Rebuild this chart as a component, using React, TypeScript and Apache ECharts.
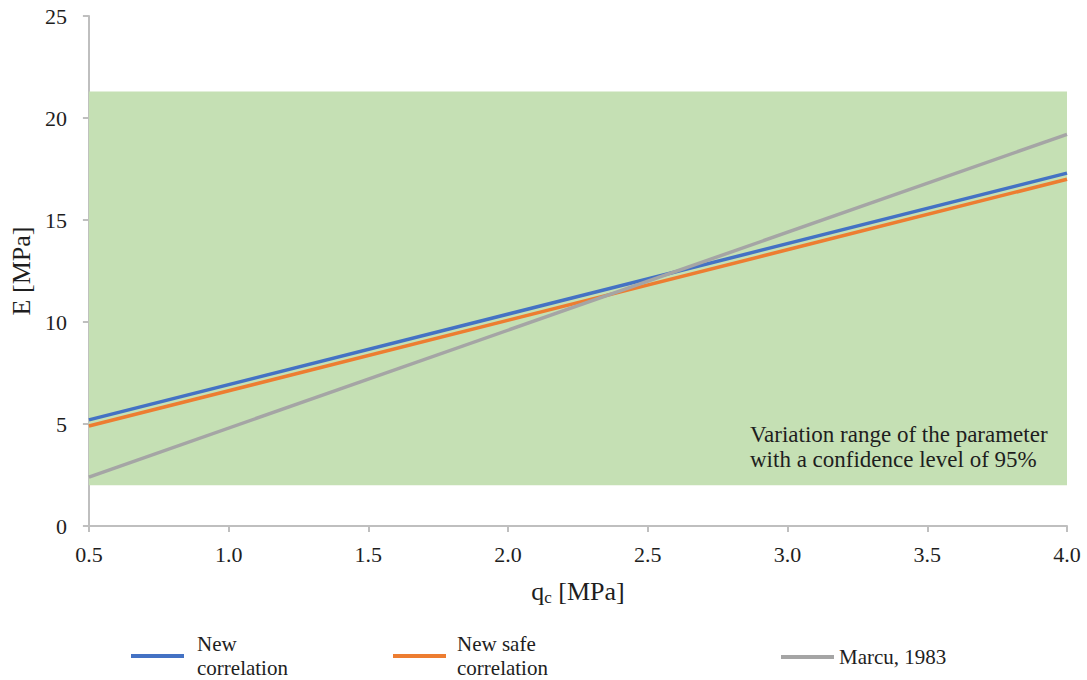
import React, { useEffect, useRef } from "react";
import * as echarts from "echarts";

const qc = [0.5, 4.0];
const newCorrelation = [5.2, 17.3];
const newSafeCorrelation = [4.9, 17.0];
const marcu1983 = [2.4, 19.2];
const bandRange = [2.0, 21.3];
const xTicks = [0.5, 1.0, 1.5, 2.0, 2.5, 3.0, 3.5, 4.0];
const seriesNames = ["New\ncorrelation", "New safe\ncorrelation", "Marcu, 1983"];
const colors = ["#4472c4", "#ed7d31", "#a5a5a5"];

const FONT = "Times New Roman";
const TXT = "#1e1e1e";

export default function App() {
  const ref = useRef<HTMLDivElement>(null);
  useEffect(() => {
    if (!ref.current) return;
    const chart = echarts.init(ref.current, undefined, { renderer: "svg" });
    const values = [newCorrelation, newSafeCorrelation, marcu1983];
    const series: any[] = values.map((v, i) => ({
      type: "line",
      name: seriesNames[i],
      data: qc.map((x, j) => [x, v[j]]),
      showSymbol: false,
      symbol: "none",
      lineStyle: { color: colors[i], width: 3.5 },
      itemStyle: { color: colors[i] },
      z: 3 + i,
    }));
    series[0].markArea = {
      silent: true,
      itemStyle: { color: "#c5e0b4" },
      data: [[{ xAxis: qc[0], yAxis: bandRange[0] }, { xAxis: qc[1], yAxis: bandRange[1] }]],
    };
    const legendLefts = [131, 393, 781];
    const legendTops = [632, 632, 645];
    const legendPads = [
      [0, 0, 0, 8],
      [0, 0, 0, 6],
      [0, 0, 0, 0],
    ];
    chart.setOption({
      animation: false,
      textStyle: { fontFamily: FONT },
      grid: { left: 87, right: 20, top: 16, bottom: 154 },
      xAxis: {
        type: "value",
        min: 0.5,
        max: 4.0,
        interval: 0.5,
        name: "{a|q}{s|c}{a| [MPa]}",
        nameLocation: "middle",
        nameGap: 51,
        nameTextStyle: {
          rich: {
            a: { fontSize: 26, color: TXT, fontFamily: FONT },
            s: { fontSize: 17, color: TXT, fontFamily: FONT, padding: [12, 0, 0, 0] },
          },
        },
        axisLine: { lineStyle: { color: "#bfbfbf", width: 2 } },
        axisTick: { show: true, length: 6, lineStyle: { color: "#bfbfbf", width: 2 } },
        axisLabel: {
          fontSize: 22,
          color: TXT,
          fontFamily: FONT,
          margin: 17,
          formatter: (v: number) => v.toFixed(1),
          customValues: xTicks,
        },
        splitLine: { show: false },
      },
      yAxis: {
        type: "value",
        min: 0,
        max: 25,
        interval: 5,
        name: "E [MPa]",
        nameLocation: "middle",
        nameGap: 52,
        nameTextStyle: { fontSize: 26, color: TXT, fontFamily: FONT },
        axisLine: { show: true, lineStyle: { color: "#bfbfbf", width: 2 } },
        axisTick: { show: true, length: 6, lineStyle: { color: "#bfbfbf", width: 2 } },
        axisLabel: { fontSize: 22, color: TXT, fontFamily: FONT, margin: 22 },
        splitLine: { show: false },
      },
      legend: seriesNames.map((n, i) => ({
        data: [n],
        left: legendLefts[i],
        top: legendTops[i],
        padding: 0,
        orient: "horizontal",
        icon: "rect",
        itemWidth: 53,
        itemHeight: 4,
        itemGap: 0,
        selectedMode: false,
        textStyle: {
          fontSize: 21,
          color: TXT,
          fontFamily: FONT,
          lineHeight: 24,
          padding: legendPads[i],
        },
      })),
      graphic: [
        {
          type: "text",
          left: 750,
          top: 422,
          style: {
            text: "Variation range of the parameter\nwith a confidence level of 95%",
            fontSize: 23,
            fontFamily: FONT,
            fill: TXT,
            lineHeight: 25,
          },
          z: 10,
        },
      ],
      series,
    });
    return () => chart.dispose();
  }, []);
  return <div ref={ref} style={{ width: 1087, height: 680, position: "absolute", left: 0, top: 0 }} />;
}
